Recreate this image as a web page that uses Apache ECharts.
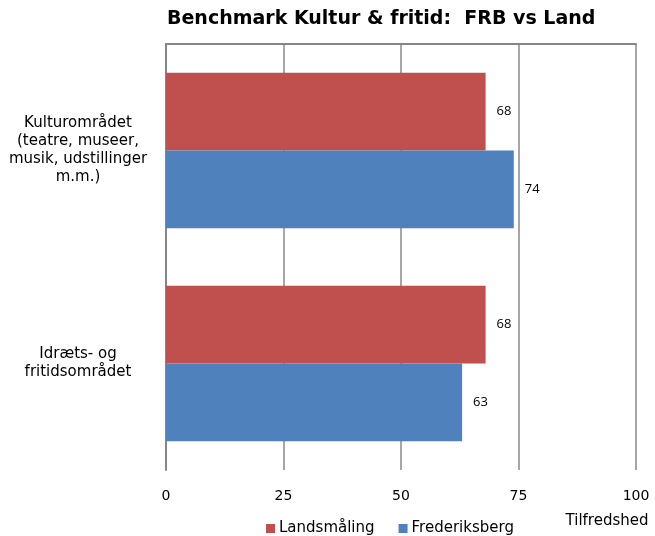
<!DOCTYPE html>
<html>
<head>
<meta charset="utf-8">
<script src="https://cdn.jsdelivr.net/npm/echarts@6/dist/echarts.min.js"></script>
<style>
  html, body { margin: 0; padding: 0; background: #fff; }
  #chart { width: 655px; height: 536px; }
</style>
</head>
<body>
<div id="chart"></div>
<script>
// data
const categories = [
  'Kulturområdet\n(teatre, museer,\nmusik, udstillinger\nm.m.)',
  'Idræts- og\nfritidsområdet'
]
const landsmaaling = [68, 68]
const frederiksberg = [74, 63]
const xTicks = [0, 25, 50, 75, 100]

const chart = echarts.init(document.getElementById('chart'))

const labelStyle = {
  show: true,
  position: 'right',
  distance: 11,
  color: '#000',
  fontFamily: 'Open Sans',
  fontSize: 13
}

const option = {
  animation: false,
  title: {
    text: 'Benchmark Kultur & fritid:  FRB vs Land',
    left: 162,
    top: 5,
    textStyle: {
      fontFamily: 'DejaVu Sans',
      fontWeight: 'bold',
      fontSize: 19,
      color: '#000'
    }
  },
  legend: {
    left: 261,
    top: 516,
    itemWidth: 9,
    itemHeight: 9,
    itemGap: 24,
    icon: 'rect',
    textStyle: {
      fontFamily: 'DejaVu Sans',
      fontSize: 15,
      color: '#000',
      padding: [0, 0, 0, -1]
    },
    data: ['Landsmåling', 'Frederiksberg']
  },
  grid: {
    left: 166,
    right: 19,
    top: 44,
    bottom: 66
  },
  xAxis: [
    {
      type: 'value',
      min: 0,
      max: 100,
      interval: 25,
      name: 'Tilfredshed',
      nameLocation: 'end',
      nameGap: -29,
      nameTextStyle: {
        align: 'center',
        verticalAlign: 'top',
        padding: [44, 0, 0, 0],
        fontFamily: 'DejaVu Sans',
        fontSize: 15,
        color: '#000'
      },
      axisLine: { show: false },
      axisTick: { show: false },
      axisLabel: {
        margin: 19,
        fontFamily: 'DejaVu Sans',
        fontSize: 14,
        color: '#000',
        formatter: (v) => xTicks.includes(v) ? String(v) : ''
      },
      splitLine: {
        show: true,
        lineStyle: { color: '#a6a6a6', width: 2 }
      }
    },
    {
      type: 'value',
      position: 'top',
      min: 0,
      max: 100,
      axisLine: { show: true, lineStyle: { color: '#868686', width: 2 } },
      axisTick: { show: false },
      axisLabel: { show: false },
      splitLine: { show: false }
    }
  ],
  yAxis: {
    type: 'category',
    inverse: true,
    data: categories,
    axisLine: { show: true, lineStyle: { color: '#868686', width: 2 } },
    axisTick: { show: false },
    axisLabel: {
      margin: 88,
      align: 'center',
      padding: [12, 0, 0, 0],
      fontFamily: 'DejaVu Sans',
      fontSize: 15,
      lineHeight: 18,
      color: '#000'
    }
  },
  series: [
    {
      name: 'Landsmåling',
      type: 'bar',
      data: landsmaaling,
      barGap: '0%',
      barCategoryGap: '27%',
      itemStyle: { color: '#C0504D' },
      label: labelStyle
    },
    {
      name: 'Frederiksberg',
      type: 'bar',
      data: frederiksberg,
      barGap: '0%',
      barCategoryGap: '27%',
      itemStyle: { color: '#4F81BD' },
      label: labelStyle
    }
  ]
}

chart.setOption(option)
</script>
</body>
</html>
